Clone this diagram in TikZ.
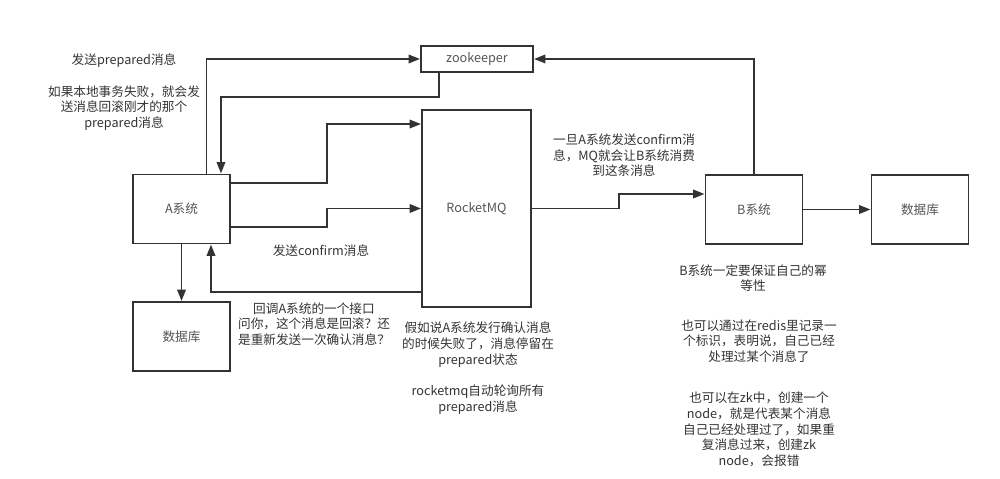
\documentclass[tikz,border=0pt]{standalone}
\usepackage{fontspec}
\setmainfont{Noto Sans CJK SC}
\usepackage{tikz}
\usetikzlibrary{arrows.meta,calc}
\definecolor{ink}{HTML}{333333}
\definecolor{boxtext}{HTML}{555555}
\tikzset{box/.style={draw=ink,line width=1.1pt,fill=white,align=center,minimum width=1.94cm,minimum height=1.38cm,text=boxtext,font=\fontsize{7.2}{8.9}\selectfont,inner sep=0pt},arr/.style={-{Triangle[length=2.3mm,width=1.7mm]},draw=ink,line width=1.1pt},lab/.style={align=center,text=ink,font=\fontsize{7.2}{8.9}\selectfont,inner sep=0pt}}

\begin{document}
\begin{tikzpicture}[x=0.02cm,y=-0.02cm]
\useasboundingbox (0,0) rectangle (1000,479);
\node[box,minimum width=2.24cm,minimum height=0.52cm] (zk) at (477,59) {zookeeper};
\node[box,minimum width=2.18cm,minimum height=3.94cm] (mq) at (476.5,208.5) {RocketMQ};
\node[box] (asys) at (181.5,209) {A系统};
\node[box,minimum height=1.38cm] (adb) at (181.5,336.5) {数据库};
\node[box] (bsys) at (754,209.5) {B系统};
\node[box] (bdb) at (920,209.5) {数据库};
% connectors
\draw[arr] ([xshift=0.5cm]asys.north) |- (zk.west);
\draw[arr] ([xshift=-0.76cm]zk.south) -- ++(0,24) -| ([xshift=0.79cm]asys.north);
\draw[arr] ([yshift=0.52cm]asys.east) -- ++(96,0) |- ([yshift=1.69cm]mq.west);
\draw[arr] ([yshift=-0.36cm]asys.east) -- ++(96,0) |- (mq.west);
\draw[arr] (asys.south) -- (adb.north);
\draw[arr] ([yshift=-1.67cm]mq.west) -| ([xshift=0.59cm]asys.south);
\draw[arr] (mq.east) -- ++(87,0) |- ([yshift=0.31cm]bsys.west);
\draw[arr] (bsys.north) |- (zk.east);
\draw[arr] (bsys.east) -- (bdb.west);
% texts
\node[lab] (tprep) at (124,61) {发送prepared消息};
\node[lab] (tfail) at (124,108) {如果本地事务失败，就会发\\送消息回滚刚才的那个\\prepared消息};
\node[lab] (tconf) at (321,251) {发送confirm消息};
\node[lab] (tcall) at (314,324) {回调A系统的一个接口\\问你，这个消息是回滚？还\\是重新发送一次确认消息？};
\node[lab] (tstay) at (478,344.5) {假如说A系统发行确认消息\\的时候失败了，消息停留在\\prepared状态};
\node[lab] (tpoll) at (478,399.5) {rocketmq自动轮询所有\\prepared消息};
\node[lab] (tmq) at (624,155.5) {一旦A系统发送confirm消\\息，MQ就会让B系统消费\\到这条消息};
\node[lab] (tidem) at (753,278) {B系统一定要保证自己的幂\\等性};
\node[lab] (tredis) at (759,341) {也可以通过在redis里记录一\\个标识，表明说，自己已经\\处理过某个消息了};
\node[lab] (tzk) at (759,429.5) {也可以在zk中，创建一个\\node，就是代表某个消息\\自己已经处理过了，如果重\\复消息过来，创建zk\\node，会报错};
\end{tikzpicture}
\end{document}
